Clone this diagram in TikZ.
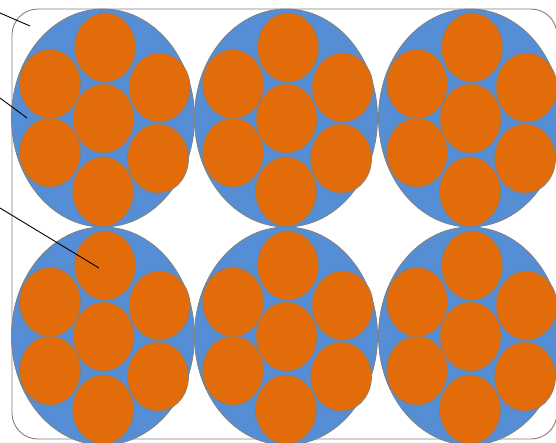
\documentclass[tikz,border=0pt]{standalone}
\usetikzlibrary{shapes.geometric}
\definecolor{bluef}{RGB}{85,142,213}
\definecolor{orangef}{RGB}{227,108,10}
\definecolor{edgeg}{RGB}{128,128,128}
\tikzset{
  frame/.style={draw=edgeg, line width=0.9pt, rounded corners=26pt},
  bigell/.style={ellipse, fill=bluef, draw=edgeg, line width=0.8pt, minimum width=183pt, minimum height=218pt, inner sep=0pt},
  smallell/.style={ellipse, fill=orangef, draw=edgeg, line width=0.7pt, minimum width=61pt, minimum height=69pt, inner sep=0pt},
  pointer/.style={draw=black, line width=0.9pt}
}
\begin{document}
\begin{tikzpicture}[x=1pt,y=-1pt]
\useasboundingbox (0,0) rectangle (556,442);
\begin{scope}
\clip (0,0) rectangle (556,442);
\draw[frame] (12,9) rectangle (557,439);
\foreach \cx/\i in {103/1,286/2,470/3}{
  \foreach \cy/\j in {118/1,336/2}{
    \node[bigell] (b\i\j) at (\cx,\cy) {};
    \node[smallell] (t\i\j) at (\cx+2,\cy-70.5) {};
    \node[smallell] (ul\i\j) at (\cx-53,\cy-34) {};
    \node[smallell] (ur\i\j) at (\cx+56.5,\cy-30.5) {};
    \node[smallell] (c\i\j) at (\cx+0.5,\cy+0.5) {};
    \node[smallell] (ll\i\j) at (\cx-53,\cy+34.5) {};
    \node[smallell] (lr\i\j) at (\cx+55,\cy+40.5) {};
    \node[smallell] (bt\i\j) at (\cx,\cy+73.5) {};
  }
}
\coordinate (s1) at (0,13);
\coordinate (e1) at (30,26);
\coordinate (s2) at (0,98);
\coordinate (e2) at (27,118);
\coordinate (s3) at (0,208);
\coordinate (e3) at (99,268);
\draw[pointer] (s1) -- (e1);
\draw[pointer] (s2) -- (e2);
\draw[pointer] (s3) -- (e3);
\end{scope}
\end{tikzpicture}
\end{document}
